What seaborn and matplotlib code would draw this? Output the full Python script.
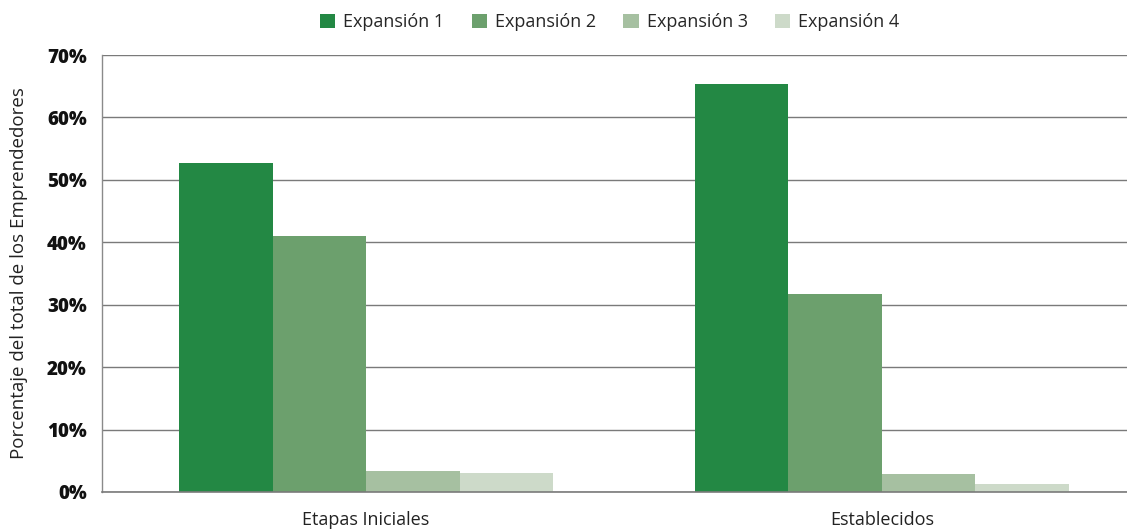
import matplotlib
matplotlib.use("Agg")
import matplotlib.pyplot as plt
import seaborn as sns
import pandas as pd
from matplotlib.ticker import FuncFormatter

categories = ["Etapas Iniciales", "Establecidos"]
series = ["Expansión 1", "Expansión 2", "Expansión 3", "Expansión 4"]
values = {
    "Expansión 1": [52.7, 65.4],
    "Expansión 2": [41.0, 31.7],
    "Expansión 3": [3.4, 2.9],
    "Expansión 4": [3.0, 1.3],
}
colors = ["#238844", "#6ca06d", "#a6c0a1", "#cddac9"]
yticks = [0, 10, 20, 30, 40, 50, 60, 70]

rows = []
for s in series:
    for c, v in zip(categories, values[s]):
        rows.append({"Categoria": c, "Serie": s, "Valor": v})
df = pd.DataFrame(rows)

sns.set_theme(style="white")
plt.rcParams["font.family"] = ["Open Sans", "DejaVu Sans"]

fig = plt.figure(figsize=(11.27, 5.32), dpi=100)
ax = fig.add_axes([0.0905, 0.0752, 0.9095, 0.8214])

sns.barplot(data=df, x="Categoria", y="Valor", hue="Serie", hue_order=series,
            order=categories, palette=colors, width=0.725, gap=0,
            saturation=1, ax=ax, legend=True, edgecolor="none", linewidth=0)

ax.set_xlim(-0.512, 1.475)
ax.set_ylim(0, 70)
ax.set_yticks(yticks)
ax.yaxis.set_major_formatter(FuncFormatter(lambda v, p: f"{int(v)}%"))
ax.grid(axis="y", color="#7a7a7a", linewidth=1.0)
ax.set_axisbelow(True)
for lbl in ax.get_yticklabels():
    lbl.set_fontweight(800)
    lbl.set_fontsize(13.5)
ax.tick_params(axis="y", length=9, width=1, color="#7a7a7a", pad=2, labelcolor="#111111")
ax.tick_params(axis="x", length=0, pad=14, labelsize=13, labelcolor="#222222")
for side in ["top", "right"]:
    ax.spines[side].set_visible(False)
ax.spines["left"].set_color("#8a8a8a")
ax.spines["left"].set_linewidth(1)
ax.spines["bottom"].set_color("#7a7a7a")
ax.spines["bottom"].set_linewidth(1.2)
ax.set_xlabel("")
ax.set_ylabel("Porcentaje del total de los Emprendedores", fontsize=13.5, color="#222222")
ax.yaxis.set_label_coords(-0.072, 0.5)

handles, labels = ax.get_legend_handles_labels()
ax.legend(handles, labels, loc="center", ncol=4, frameon=False, fontsize=13,
          handlelength=0.85, handleheight=0.85, handletextpad=0.45, columnspacing=1.5)
leg = ax.get_legend()
leg.set_bbox_to_anchor((0.541, 0.958), transform=fig.transFigure)

fig.savefig("out.png", dpi=100)
